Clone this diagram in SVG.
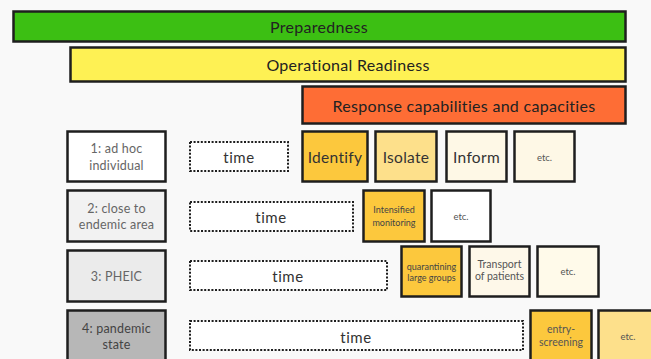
<svg xmlns="http://www.w3.org/2000/svg" width="651" height="359" viewBox="0 0 651 359">
<style>
.b{stroke:#1e1e1e;stroke-width:2.5}
.d{fill:#fff;stroke:#1e1e1e;stroke-width:2;stroke-dasharray:2 1.6}
text{font-family:Lato,"Open Sans",sans-serif;text-anchor:middle;dominant-baseline:central}
.h{font-size:16px;fill:#222;letter-spacing:0.3px}
.l{font-size:12.5px;fill:#666;letter-spacing:0.2px}
.t{font-size:15px;fill:#333;letter-spacing:0.6px}
.m{font-size:15.5px;fill:#333;letter-spacing:0.3px}
.s{font-size:9px;fill:#444}
.e{font-size:9.5px;fill:#555}
.w{font-size:10.5px;fill:#555}
</style>
<rect width="651" height="359" fill="#f9f9f9"/>
<g id="preparedness"><rect class="b" x="13.5" y="11.5" width="612" height="30" fill="#3cbf13"/><text class="h" x="319" y="26.5">Preparedness</text></g>
<g id="readiness"><rect class="b" x="70.5" y="47.5" width="555" height="34" fill="#fef154"/><text class="h" x="348" y="64.5">Operational Readiness</text></g>
<g id="response"><rect class="b" x="302.5" y="86.5" width="323" height="37" fill="#fe6d35"/><text class="h" x="464" y="105">Response capabilities and capacities</text></g>

<g id="row1-label"><rect class="b" x="67.5" y="131.5" width="98" height="50" fill="#fff"/><text class="l" x="116.5" y="148">1: ad hoc</text><text class="l" x="116.5" y="165">individual</text></g>
<g id="row1-time"><rect class="d" x="190" y="142" width="98" height="29"/><text class="t" x="239" y="157">time</text></g>
<g id="identify"><rect class="b" x="302.5" y="131.5" width="65" height="50" fill="#fcc83d"/><text class="m" x="335" y="157">Identify</text></g>
<g id="isolate"><rect class="b" x="375.5" y="131.5" width="61" height="50" fill="#fde08b"/><text class="m" x="406" y="157">Isolate</text></g>
<g id="inform"><rect class="b" x="446.5" y="131.5" width="60" height="50" fill="#fef8e6"/><text class="m" x="476.5" y="157">Inform</text></g>
<g id="row1-etc"><rect class="b" x="514.5" y="131.5" width="60" height="50" fill="#fef8e6"/><text class="e" x="544.5" y="157">etc.</text></g>

<g id="row2-label"><rect class="b" x="67.5" y="190.5" width="98" height="51" fill="#f2f2f2"/><text class="l" x="116.5" y="208">2: close to</text><text class="l" x="116.5" y="224">endemic area</text></g>
<g id="row2-time"><rect class="d" x="190" y="202" width="163" height="29"/><text class="t" x="271" y="217">time</text></g>
<g id="intensified"><rect class="b" x="363.5" y="190.5" width="61" height="51" fill="#fcc83d"/><text class="s" x="394" y="209">Intensified</text><text class="s" x="394" y="222">monitoring</text></g>
<g id="row2-etc"><rect class="b" x="431.5" y="190.5" width="59" height="51" fill="#fff"/><text class="e" x="461" y="216">etc.</text></g>

<g id="row3-label"><rect class="b" x="67.5" y="250.5" width="98" height="51" fill="#ebebeb"/><text class="l" x="116.5" y="276">3: PHEIC</text></g>
<g id="row3-time"><rect class="d" x="190" y="261" width="197" height="29"/><text class="t" x="288" y="276">time</text></g>
<g id="quarantining"><rect class="b" x="401.5" y="246.5" width="60" height="50" fill="#fcc83d"/><text class="s" x="431.5" y="266">quarantining</text><text class="s" x="431.5" y="277">large groups</text></g>
<g id="transport"><rect class="b" x="469.5" y="246.5" width="60" height="50" fill="#fef8e9"/><text class="w" x="499.5" y="264">Transport</text><text class="w" x="499.5" y="276">of patients</text></g>
<g id="row3-etc"><rect class="b" x="537.5" y="246.5" width="61" height="50" fill="#fffaea"/><text class="e" x="568" y="271">etc.</text></g>

<g id="row4-label"><rect class="b" x="67.5" y="310.5" width="98" height="56" fill="#b7b7b7"/><text class="l" x="116.5" y="328" style="fill:#444">4: pandemic</text><text class="l" x="116.5" y="344" style="fill:#444">state</text></g>
<g id="row4-time"><rect class="d" x="190" y="321" width="333" height="29"/><text class="t" x="356" y="337">time</text></g>
<g id="entry"><rect class="b" x="530.5" y="310.5" width="61" height="56" fill="#fcc83d"/><text class="w" x="561" y="329">entry-</text><text class="w" x="561" y="342">screening</text></g>
<g id="row4-etc"><rect class="b" x="598.5" y="310.5" width="60" height="56" fill="#fde08b"/><text class="e" x="628" y="336">etc.</text></g>
<g id="connectors"></g>
</svg>
